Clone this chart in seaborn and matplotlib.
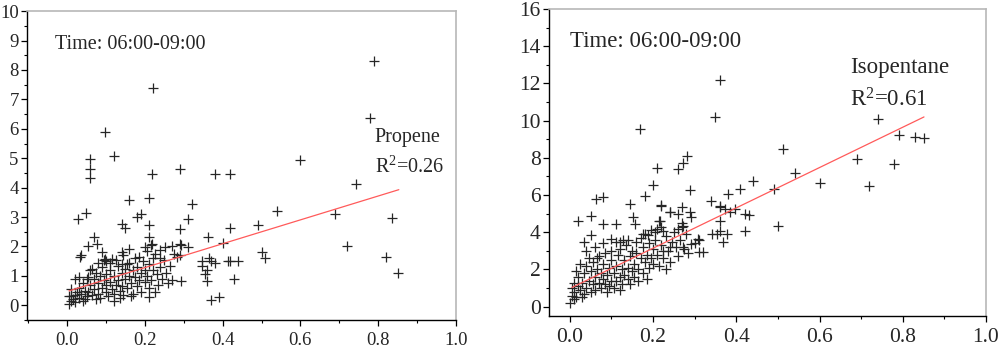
import matplotlib
matplotlib.use("Agg")
import matplotlib.pyplot as plt
import seaborn as sns
import pandas as pd
from matplotlib.ticker import MultipleLocator

# ---------------- data ----------------
propene_points = [
    (0.79, 8.3), (0.22, 7.4), (0.78, 6.35), (0.098, 5.9), (0.12, 5.08), (0.058, 4.99), (0.058, 4.65),
    (0.058, 4.34), (0.60, 4.93), (0.29, 4.65), (0.219, 4.48), (0.38, 4.45), (0.42, 4.48), (0.744, 4.14),
    (0.158, 3.58), (0.21, 3.64), (0.32, 3.44), (0.049, 3.15), (0.029, 2.93), (0.19, 3.12), (0.18, 3.0),
    (0.141, 2.78), (0.15, 2.64), (0.21, 2.74), (0.29, 2.6), (0.31, 2.93), (0.363, 2.33), (0.42, 2.62),
    (0.40, 2.13), (0.54, 3.2), (0.49, 2.74), (0.69, 3.12), (0.835, 2.96), (0.72, 2.0), (0.82, 1.63),
    (0.85, 1.09), (0.50, 1.8), (0.51, 1.62), (0.346, 1.49), (0.371, 1.49), (0.354, 1.05), (0.361, 0.81),
    (0.348, 1.34), (0.365, 1.62), (0.38, 1.45), (0.361, 1.19), (0.42, 1.49), (0.44, 1.49), (0.413, 1.5),
    (0.43, 0.88), (0.37, 0.17), (0.39, 0.28), (0.07, 2.33), (0.077, 2.07), (0.055, 2.02), (0.036, 1.7),
    (0.032, 1.65), (0.27, 2.02), (0.292, 2.04), (0.312, 1.98), (0.292, 0.83), (0.27, 0.86), (0.29, 2.1),
    (0.29, 1.7), (0.24, 1.87), (0.253, 1.98), (0.275, 1.76), (0.283, 1.64), (0.21, 2.32), (0.219, 2.10),
    (0.2, 1.99), (0.09, 1.82), (0.098, 1.59), (0.115, 1.59), (0.141, 1.82), (0.158, 1.93), (0.145, 1.70),
    (0.21, 0.28),
    (0.005, 0.05), (0.01, 0.15), (0.01, 0.3), (0.015, 0.2), (0.02, 0.35), (0.02, 0.1), (0.025, 0.45),
    (0.03, 0.25), (0.03, 0.6), (0.035, 0.4), (0.04, 0.15), (0.04, 0.75), (0.045, 0.5), (0.05, 0.3),
    (0.05, 0.9), (0.02, 0.9), (0.03, 0.95), (0.01, 0.55), (0.005, 0.3), (0.045, 0.2),
    (0.055, 0.45), (0.06, 0.7), (0.06, 1.2), (0.065, 0.35), (0.07, 0.9), (0.07, 0.55), (0.075, 1.1),
    (0.08, 0.4), (0.08, 0.75), (0.085, 1.0), (0.085, 0.25), (0.09, 0.6), (0.09, 1.3), (0.095, 0.85),
    (0.1, 0.45), (0.1, 1.05), (0.1, 0.7), (0.055, 0.95), (0.065, 1.25), (0.075, 0.2), (0.08, 1.45),
    (0.095, 1.55), (0.1, 1.5),
    (0.105, 0.3), (0.11, 0.8), (0.11, 1.2), (0.115, 0.55), (0.12, 1.0), (0.12, 0.4), (0.125, 0.7),
    (0.13, 1.35), (0.13, 0.85), (0.135, 0.5), (0.14, 1.1), (0.14, 0.65), (0.145, 0.35), (0.15, 0.9),
    (0.15, 1.25), (0.11, 1.45), (0.125, 1.55), (0.14, 1.4), (0.12, 0.15), (0.135, 0.25),
    (0.155, 0.6), (0.16, 1.0), (0.16, 1.45), (0.165, 0.75), (0.17, 0.4), (0.17, 1.2), (0.175, 0.95),
    (0.18, 0.65), (0.18, 1.3), (0.185, 0.85), (0.19, 1.1), (0.19, 0.45), (0.195, 1.5), (0.2, 0.8),
    (0.2, 1.2), (0.175, 1.6), (0.165, 0.3), (0.185, 1.65), (0.155, 1.4),
    (0.205, 1.0), (0.21, 0.6), (0.21, 1.4), (0.215, 0.85), (0.22, 1.2), (0.225, 0.45), (0.23, 1.05),
    (0.235, 0.7), (0.24, 1.3), (0.245, 0.9), (0.25, 1.55), (0.255, 1.1), (0.26, 0.75), (0.265, 1.35),
    (0.22, 1.6), (0.24, 1.6), (0.225, 1.75), (0.205, 1.85), (0.215, 2.05),
]

isopentane_points = [
    (0.36, 12.18), (0.35, 10.17), (0.169, 9.54), (0.512, 8.5), (0.54, 7.2), (0.60, 6.66), (0.44, 6.73),
    (0.49, 6.30), (0.41, 6.34), (0.38, 6.07), (0.281, 8.08), (0.272, 7.72), (0.261, 7.42), (0.209, 7.47),
    (0.199, 6.52), (0.289, 6.25), (0.181, 5.94), (0.219, 5.41), (0.34, 5.66), (0.361, 5.35), (0.373, 5.26),
    (0.398, 5.26), (0.386, 5.08), (0.422, 4.99), (0.43, 4.94), (0.50, 4.36), (0.42, 4.06), (0.269, 5.35),
    (0.261, 4.99), (0.241, 5.08), (0.289, 5.08), (0.361, 4.63), (0.361, 4.09), (0.341, 3.92), (0.353, 3.92),
    (0.378, 3.92), (0.369, 3.46), (0.31, 3.59), (0.269, 4.31), (0.261, 4.19), (0.741, 10.08), (0.791, 9.21),
    (0.829, 9.12), (0.85, 9.07), (0.69, 7.92), (0.78, 7.65), (0.72, 6.48), (0.063, 5.8), (0.08, 5.89),
    (0.144, 5.53), (0.22, 5.44), (0.36, 5.39), (0.019, 4.63), (0.051, 4.9), (0.08, 4.46), (0.11, 4.46),
    (0.152, 4.81), (0.156, 4.46), (0.24, 5.08), (0.216, 4.63), (0.22, 4.27), (0.224, 4.09), (0.272, 4.36),
    (0.051, 3.83), (0.035, 3.46), (0.039, 3.0), (0.1, 3.65), (0.12, 3.46), (0.128, 3.56), (0.176, 3.92),
    (0.188, 3.83), (0.204, 4.0), (0.292, 3.38), (0.272, 3.2), (0.308, 3.65), (0.31, 2.93), (0.32, 2.93),
    (0.24, 3.2), (0.224, 3.0),
    (0.0, 0.2), (0.005, 0.6), (0.005, 1.0), (0.01, 0.8), (0.01, 1.3), (0.015, 0.5), (0.02, 1.1),
    (0.02, 1.6), (0.025, 0.9), (0.03, 1.3), (0.03, 0.5), (0.035, 1.8), (0.04, 1.0), (0.04, 2.2),
    (0.045, 1.4), (0.05, 0.8), (0.05, 1.9), (0.015, 1.9), (0.025, 2.3), (0.045, 2.6), (0.01, 0.4),
    (0.035, 0.7),
    (0.055, 1.2), (0.055, 2.4), (0.06, 1.6), (0.06, 0.9), (0.065, 2.0), (0.07, 1.3), (0.07, 2.7),
    (0.075, 1.0), (0.075, 1.8), (0.08, 1.5), (0.08, 2.3), (0.085, 1.2), (0.085, 2.9), (0.09, 1.7),
    (0.09, 0.8), (0.095, 2.1), (0.1, 1.4), (0.1, 2.5), (0.1, 3.0), (0.065, 2.6), (0.095, 1.1),
    (0.06, 3.2), (0.08, 3.4),
    (0.105, 1.8), (0.105, 1.0), (0.11, 2.2), (0.11, 1.4), (0.115, 2.8), (0.12, 1.6), (0.12, 3.1),
    (0.125, 2.0), (0.125, 1.2), (0.13, 2.5), (0.13, 1.7), (0.135, 3.3), (0.14, 2.1), (0.14, 1.5),
    (0.145, 2.7), (0.15, 1.9), (0.15, 3.0), (0.11, 3.5), (0.14, 3.6), (0.12, 0.9), (0.145, 1.2),
    (0.155, 2.3), (0.155, 1.6), (0.16, 2.9), (0.16, 3.5), (0.165, 2.0), (0.17, 2.6), (0.17, 3.7),
    (0.175, 1.8), (0.175, 3.2), (0.18, 2.4), (0.18, 3.9), (0.185, 2.8), (0.19, 2.1), (0.19, 3.4),
    (0.195, 2.6), (0.2, 3.1), (0.2, 2.3), (0.165, 1.4), (0.185, 1.5), (0.195, 4.1),
    (0.205, 3.6), (0.21, 2.8), (0.21, 4.2), (0.215, 2.2), (0.22, 3.3), (0.225, 2.6), (0.23, 3.8),
    (0.235, 3.0), (0.24, 2.4), (0.245, 3.5), (0.25, 4.0), (0.255, 3.2), (0.26, 2.7), (0.265, 3.6),
    (0.27, 4.5), (0.275, 3.1), (0.28, 3.9), (0.285, 2.9), (0.29, 4.8), (0.3, 3.4), (0.215, 4.6),
    (0.23, 2.0),
]

# linear fits as drawn in the reference (endpoints)
propene_fit_x = [0.005, 0.853]
propene_fit_y = [0.49, 3.93]
isopentane_fit_x = [0.005, 0.851]
isopentane_fit_y = [1.03, 10.2]

time_label = "Time: 06:00-09:00"
propene_label = "Propene"
propene_r2 = "R$^{2}$=0.26"
isopentane_label = "Isopentane"
isopentane_r2 = "R$^{2}$=0.61"

# ---------------- style ----------------
sns.set_style("ticks")
plt.rcParams["font.family"] = ["Liberation Serif", "DejaVu Serif"]
plt.rcParams["mathtext.fontset"] = "custom"
plt.rcParams["mathtext.rm"] = "Liberation Serif"
plt.rcParams["mathtext.it"] = "Liberation Serif:italic"

fig = plt.figure(figsize=(10, 3.48), dpi=100)
ax1 = fig.add_axes([0.027, 0.0805, 0.429, 0.8875])
ax2 = fig.add_axes([0.549, 0.092, 0.437, 0.882])

mark_color = "#262626"
line_color = "#ff5a5a"


def panel(ax, pts, fx, fy, ylim, ymaj, ymin, xlim, tick_fs, text_fs, name, r2, pos_name, pos_r2, pos_time):
    df = pd.DataFrame(pts, columns=["x", "y"])
    sns.scatterplot(data=df, x="x", y="y", ax=ax, marker="+", s=55, color=mark_color,
                    linewidth=0.9, legend=False, zorder=3)
    sns.lineplot(x=fx, y=fy, ax=ax, color=line_color, linewidth=0.9, zorder=4)
    ax.set_xlim(*xlim)
    ax.set_ylim(*ylim)
    ax.xaxis.set_major_locator(MultipleLocator(0.2))
    ax.xaxis.set_minor_locator(MultipleLocator(0.1))
    ax.yaxis.set_major_locator(MultipleLocator(ymaj))
    ax.yaxis.set_minor_locator(MultipleLocator(ymin))
    ax.set_xticks([0.0, 0.2, 0.4, 0.6, 0.8, 1.0])
    ax.set_xticklabels(["0.0", "0.2", "0.4", "0.6", "0.8", "1.0"])
    ax.set_xlabel("")
    ax.set_ylabel("")
    ax.tick_params(axis="both", which="major", direction="out", length=4, width=0.9,
                   labelsize=tick_fs, color="black", pad=2)
    ax.tick_params(axis="both", which="minor", direction="out", length=2.2, width=0.8, color="black")
    ax.tick_params(axis="x", which="major", pad=4.5)
    for s in ["left", "bottom"]:
        ax.spines[s].set_color("black")
        ax.spines[s].set_linewidth(1.0)
    for s in ["top", "right"]:
        ax.spines[s].set_color("#b8b8b8")
        ax.spines[s].set_linewidth(1.2)
    ax.text(pos_time[0], pos_time[1], time_label, transform=ax.transAxes, fontsize=text_fs,
            va="baseline", ha="left")
    ax.text(pos_name[0], pos_name[1], name, transform=ax.transAxes, fontsize=text_fs,
            va="baseline", ha="left")
    ax.text(pos_r2[0], pos_r2[1], r2, transform=ax.transAxes, fontsize=text_fs,
            va="baseline", ha="left")


panel(ax1, propene_points, propene_fit_x, propene_fit_y, (-0.5, 10), 1, 0.5, (-0.103, 1.0),
      13.5, 14.5, propene_label, propene_r2, (0.811, 0.576), (0.811, 0.478), (0.065, 0.877))
panel(ax2, isopentane_points, isopentane_fit_x, isopentane_fit_y, (-0.5, 16), 2, 1, (-0.05, 1.0),
      15.5, 16.5, isopentane_label, isopentane_r2, (0.689, 0.793), (0.689, 0.681), (0.048, 0.876))

fig.savefig("out.png", dpi=100)
